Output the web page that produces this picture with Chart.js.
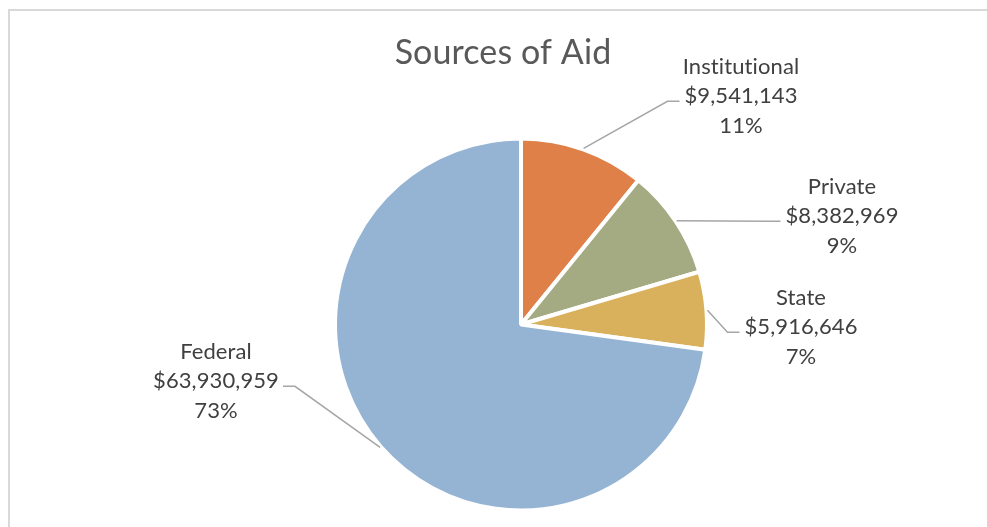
<!DOCTYPE html>
<html>
<head>
<meta charset="utf-8">
<title>Sources of Aid</title>
<script src="https://cdn.jsdelivr.net/npm/chart.js@4.4.1/dist/chart.umd.min.js"></script>
<style>
    html, body { margin: 0; padding: 0; background: #fff; overflow: hidden; }
    .wrap { position: relative; width: 987px; height: 527px; }
    .frame {
        position: absolute; left: 8px; top: 9px; width: 1000px; height: 600px;
        border: 2px solid #d9d9d9; box-sizing: border-box;
    }
    canvas { position: absolute; left: 0; top: 0; }
</style>
</head>
<body>
<div class="wrap">
    <div class="frame"></div>
    <canvas id="aidChart" width="987" height="527"></canvas>
</div>
<script>
// aid sources, clockwise from 12 o'clock
const sources = ['Institutional', 'Private', 'State', 'Federal'];
const amounts = [9541143, 8382969, 5916646, 63930959];
const shares = ['11%', '9%', '7%', '73%'];
const sliceColors = ['#DF8048', '#A4AA81', '#D9B15C', '#95B4D4'];

// where each label block sits: centre x, first baseline, and which side the leader enters from
const labelSpots = [
    { x: 741, y: 74, side: 'left' },
    { x: 842, y: 194, side: 'left' },
    { x: 801, y: 305, side: 'left' },
    { x: 216, y: 359, side: 'right' }
];

const LABEL_FONT = '22px Lato, "Open Sans", sans-serif';
const LINE_GAP = 29.3;

function money(v) {
    return '$' + v.toLocaleString('en-US');
}

const labelsPlugin = {
    id: 'aidLabels',
    afterDatasetsDraw(chart) {
        const ctx = chart.ctx;
        const arcs = chart.getDatasetMeta(0).data;
        ctx.save();
        // a touch of spacing also keeps Lato from joining "ti"
        ctx.letterSpacing = '0.1px';

        // title
        ctx.fillStyle = '#595959';
        ctx.font = '34px Lato, "Open Sans", sans-serif';
        ctx.textAlign = 'center';
        ctx.textBaseline = 'alphabetic';
        ctx.fillText('Sources of Aid', 503, 64);

        ctx.font = LABEL_FONT;
        arcs.forEach((arc, i) => {
            const spot = labelSpots[i];
            const p = arc.getProps(['x', 'y', 'startAngle', 'endAngle', 'outerRadius'], true);
            const mid = (p.startAngle + p.endAngle) / 2;
            const ax = p.x + Math.cos(mid) * (p.outerRadius + 1);
            const ay = p.y + Math.sin(mid) * (p.outerRadius + 1);

            const amountText = money(amounts[i]);
            const w = ctx.measureText(amountText).width;
            const ly = spot.y + LINE_GAP - 2;
            const ex = spot.side === 'left' ? spot.x - w / 2 - 5 : spot.x + w / 2 + 4;
            const bx = spot.side === 'left' ? ex - 12 : ex + 12;

            ctx.strokeStyle = '#a6a6a6';
            ctx.lineWidth = 1.5;
            ctx.beginPath();
            ctx.moveTo(ax, ay);
            ctx.lineTo(bx, ly);
            ctx.lineTo(ex, ly);
            ctx.stroke();

            ctx.fillStyle = '#404040';
            ctx.textAlign = 'center';
            ctx.fillText(sources[i], spot.x, spot.y);
            ctx.fillText(amountText, spot.x, spot.y + LINE_GAP);
            ctx.fillText(shares[i], spot.x, spot.y + LINE_GAP * 2);
        });
        ctx.restore();
    }
};

new Chart(document.getElementById('aidChart'), {
    type: 'pie',
    data: {
        labels: sources,
        datasets: [{
            data: amounts,
            backgroundColor: sliceColors,
            borderColor: '#ffffff',
            borderWidth: 4
        }]
    },
    options: {
        responsive: false,
        animation: false,
        layout: { padding: { left: 333, right: 278, top: 136, bottom: 14 } },
        plugins: {
            legend: { display: false },
            tooltip: { enabled: false },
            title: { display: false }
        }
    },
    plugins: [labelsPlugin]
});
</script>
</body>
</html>
